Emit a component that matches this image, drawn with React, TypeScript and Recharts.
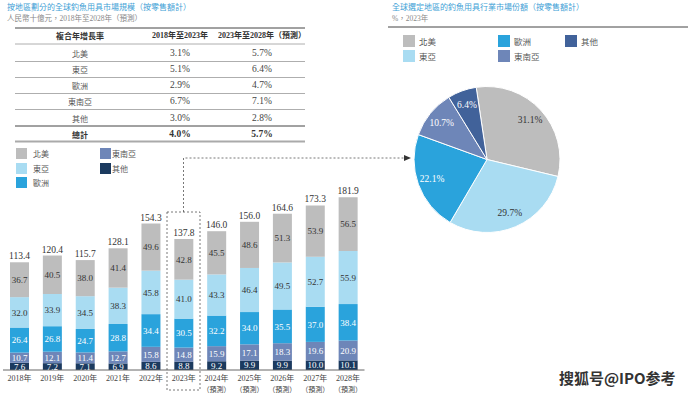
import React from 'react';
import { BarChart, Bar, XAxis, YAxis, LabelList, PieChart, Pie, Cell } from 'recharts';

// 市場規模（人民幣十億元）
const years = ['2018', '2019', '2020', '2021', '2022', '2023', '2024', '2025', '2026', '2027', '2028'];
const isForecast = [false, false, false, false, false, false, true, true, true, true, true];
const other = [7.6, 7.2, 7.1, 6.9, 8.6, 8.8, 9.2, 9.9, 9.9, 10.0, 10.1];
const seAsia = [10.7, 12.1, 11.4, 12.7, 15.8, 14.8, 15.9, 17.1, 18.3, 19.6, 20.9];
const europe = [26.4, 26.8, 24.7, 28.8, 34.4, 30.5, 32.2, 34.0, 35.5, 37.0, 38.4];
const eastAsia = [32.0, 33.9, 34.5, 38.3, 45.8, 41.0, 43.3, 46.4, 49.5, 52.7, 55.9];
const northAmerica = [36.7, 40.5, 38.0, 41.4, 49.6, 42.8, 45.5, 48.6, 51.3, 53.9, 56.5];
const totals = [113.4, 120.4, 115.7, 128.1, 154.3, 137.8, 146.0, 156.0, 164.6, 173.3, 181.9];

// 複合年增長率
const cagrRegions = ['北美', '東亞', '歐洲', '東南亞', '其他'];
const cagr1823 = ['3.1%', '5.1%', '2.9%', '6.7%', '3.0%'];
const cagr2328 = ['5.7%', '6.4%', '4.7%', '7.1%', '2.8%'];
const cagrTotal = ['4.0%', '5.7%'];

// 2023年市場份額（%）
const shareRegions = ['北美', '東亞', '歐洲', '東南亞', '其他'];
const share2023 = [31.1, 29.7, 22.1, 10.7, 6.4];

const GRAY = '#bdbdbd';
const LIGHT = '#a9dcf2';
const BLUE = '#2aa3dc';
const SEA = '#6e86b8';
const NAVY = '#1b3a5f';
const PIE_OTHER = '#41629a';

const SERIF = "'Liberation Serif', 'Noto Sans CJK TC', serif";
const CJK = "'Noto Sans CJK TC', 'Liberation Serif', sans-serif";

const barData = years.map((y, i) => ({
  year: y,
  other: other[i],
  seAsia: seAsia[i],
  europe: europe[i],
  eastAsia: eastAsia[i],
  northAmerica: northAmerica[i],
  total: totals[i],
}));

const pieData = shareRegions.map((r, i) => ({ name: r, value: share2023[i] }));
const pieColors = [GRAY, LIGHT, BLUE, SEA, PIE_OTHER];
const pieLabelDark = [true, true, false, false, false];

const fmt = (v: any) => Number(v).toFixed(1);

const YearTick = (props: any) => {
  const { x, y, payload } = props;
  const i = years.indexOf(payload.value);
  return (
    <g>
      <text x={x} y={y + 11} textAnchor="middle" fontSize={8} fill="#444" fontFamily={SERIF}>
        {payload.value}年
      </text>
      {isForecast[i] && (
        <text x={x} y={y + 22} textAnchor="middle" fontSize={7} fill="#444" fontFamily={CJK}>
          （預測）
        </text>
      )}
    </g>
  );
};

const RADIAN = Math.PI / 180;
const PieLabel = (props: any) => {
  const { cx, cy, midAngle, outerRadius, index, value } = props;
  const r = outerRadius * 0.8;
  const x = cx + r * Math.cos(-midAngle * RADIAN);
  const y = cy + r * Math.sin(-midAngle * RADIAN);
  return (
    <text x={x} y={y} textAnchor="middle" dominantBaseline="central" fontSize={9.5}
      fontFamily={SERIF} fill={pieLabelDark[index] ? '#333' : '#fff'}>
      {Number(value).toFixed(1)}%
    </text>
  );
};

const barLegend = [
  { label: '北美', color: GRAY, x: 16, y: 148 },
  { label: '東亞', color: LIGHT, x: 16, y: 163 },
  { label: '歐洲', color: BLUE, x: 16, y: 177 },
  { label: '東南亞', color: SEA, x: 100, y: 148 },
  { label: '其他', color: NAVY, x: 100, y: 163 },
];

const pieLegend = [
  { label: '北美', color: GRAY, x: 403, y: 35 },
  { label: '東亞', color: LIGHT, x: 403, y: 50 },
  { label: '歐洲', color: BLUE, x: 498, y: 35 },
  { label: '東南亞', color: SEA, x: 498, y: 50 },
  { label: '其他', color: PIE_OTHER, x: 565, y: 35 },
];

const rowY = [53.3, 69.3, 85.2, 101.2, 118.2];
const rowLines = [44, 61.5, 77.5, 93.5, 109.5];
const COL = [80, 180, 262];

export default function App() {
  return (
    <div style={{ position: 'absolute', left: 0, top: 0, width: 693, height: 394, background: '#fff', overflow: 'hidden' }}>
      <div style={{ position: 'absolute', left: 0, top: 150 }}>
        <BarChart width={380} height={244} data={barData} margin={{ top: 30, right: 15.5, bottom: 0, left: 3 }} barSize={19}>
          <XAxis dataKey="year" tickLine={false} tickSize={0} tickMargin={0} height={24}
            axisLine={{ stroke: '#666' }} tick={<YearTick />} interval={0} />
          <YAxis hide domain={[0, 200]} />
          <Bar dataKey="other" stackId="a" fill={NAVY} isAnimationActive={false}>
            <LabelList dataKey="other" position="center" formatter={fmt} fill="#fff" fontSize={9} fontFamily={SERIF} />
          </Bar>
          <Bar dataKey="seAsia" stackId="a" fill={SEA} isAnimationActive={false}>
            <LabelList dataKey="seAsia" position="center" formatter={fmt} fill="#fff" fontSize={9} fontFamily={SERIF} />
          </Bar>
          <Bar dataKey="europe" stackId="a" fill={BLUE} isAnimationActive={false}>
            <LabelList dataKey="europe" position="center" formatter={fmt} fill="#fff" fontSize={9} fontFamily={SERIF} />
          </Bar>
          <Bar dataKey="eastAsia" stackId="a" fill={LIGHT} isAnimationActive={false}>
            <LabelList dataKey="eastAsia" position="center" formatter={fmt} fill="#333" fontSize={9} fontFamily={SERIF} />
          </Bar>
          <Bar dataKey="northAmerica" stackId="a" fill={GRAY} isAnimationActive={false}>
            <LabelList dataKey="northAmerica" position="center" formatter={fmt} fill="#333" fontSize={9} fontFamily={SERIF} />
            <LabelList dataKey="total" position="top" offset={3} formatter={fmt} fill="#333" fontSize={9.5} fontFamily={SERIF} />
          </Bar>
        </BarChart>
      </div>

      <div style={{ position: 'absolute', left: 387, top: 60 }}>
        <PieChart width={200} height={200} margin={{ top: 0, right: 0, bottom: 0, left: 0 }}>
          <Pie data={pieData} dataKey="value" nameKey="name" cx={100} cy={99.5} outerRadius={73}
            startAngle={98.5} endAngle={-261.5} stroke="#fff" strokeWidth={1}
            label={PieLabel} labelLine={false} isAnimationActive={false}>
            {pieData.map((d, i) => <Cell key={d.name} fill={pieColors[i]} />)}
          </Pie>
        </PieChart>
      </div>

      <svg width={693} height={394} style={{ position: 'absolute', left: 0, top: 0, pointerEvents: 'none' }}>
        {/* left titles */}
        <text x={7} y={10} fontSize={8} fill="#3f9fd6" fontFamily={CJK}>按地區劃分的全球釣魚用具市場規模（按零售額計）</text>
        <text x={7} y={21} fontSize={7.5} fill="#888" fontFamily={SERIF}>人民幣十億元，2018年至2028年（預測）</text>

        {/* CAGR table */}
        <line x1={15} x2={305} y1={28} y2={28} stroke="#444" strokeWidth={1} />
        <text x={COL[0]} y={35} textAnchor="middle" dominantBaseline="central" fontSize={8} fontWeight="bold" fill="#333" fontFamily={CJK}>複合年增長率</text>
        <text x={COL[1]} y={35} textAnchor="middle" dominantBaseline="central" fontSize={8} fontWeight="bold" fill="#333" fontFamily={SERIF}>2018年至2023年</text>
        <text x={COL[2]} y={35} textAnchor="middle" dominantBaseline="central" fontSize={8} fontWeight="bold" fill="#333" fontFamily={SERIF}>2023年至2028年（預測）</text>
        {rowLines.map(y => <line key={y} x1={15} x2={305} y1={y} y2={y} stroke="#999" strokeWidth={0.8} />)}
        {cagrRegions.map((r, i) => (
          <g key={r}>
            <text x={COL[0]} y={rowY[i]} textAnchor="middle" dominantBaseline="central" fontSize={8} fill="#555" fontFamily={CJK}>{r}</text>
            <text x={COL[1]} y={rowY[i]} textAnchor="middle" dominantBaseline="central" fontSize={9.5} fill="#444" fontFamily={SERIF}>{cagr1823[i]}</text>
            <text x={COL[2]} y={rowY[i]} textAnchor="middle" dominantBaseline="central" fontSize={9.5} fill="#444" fontFamily={SERIF}>{cagr2328[i]}</text>
          </g>
        ))}
        <line x1={15} x2={305} y1={126} y2={126} stroke="#444" strokeWidth={1} />
        <text x={COL[0]} y={134} textAnchor="middle" dominantBaseline="central" fontSize={8} fontWeight="bold" fill="#333" fontFamily={CJK}>總計</text>
        <text x={COL[1]} y={134} textAnchor="middle" dominantBaseline="central" fontSize={9.5} fontWeight="bold" fill="#333" fontFamily={SERIF}>{cagrTotal[0]}</text>
        <text x={COL[2]} y={134} textAnchor="middle" dominantBaseline="central" fontSize={9.5} fontWeight="bold" fill="#333" fontFamily={SERIF}>{cagrTotal[1]}</text>
        <line x1={15} x2={305} y1={141.5} y2={141.5} stroke="#aaa" strokeWidth={2} />

        {/* bar legend */}
        {barLegend.map(l => (
          <g key={l.label}>
            <rect x={l.x} y={l.y} width={11} height={11} fill={l.color} />
            <text x={l.x + (l.x > 50 ? 12 : 17)} y={l.y + 5.5} dominantBaseline="central" fontSize={8} fill="#555" fontFamily={CJK}>{l.label}</text>
          </g>
        ))}

        {/* 2023 highlight and arrow */}
        <rect x={167} y={212} width={33} height={178} fill="none" stroke="#555" strokeWidth={0.8} strokeDasharray="2,2" />
        <path d="M183.5,212 L183.5,158 L405,158" fill="none" stroke="#555" strokeWidth={0.8} strokeDasharray="2,2" />
        <path d="M404,155 L411,158 L404,161 Z" fill="#333" />

        {/* right titles */}
        <text x={392} y={10} fontSize={8} fill="#3f9fd6" fontFamily={CJK}>全球選定地區的釣魚用具行業市場份額（按零售額計）</text>
        <text x={392} y={21} fontSize={7.5} fill="#888" fontFamily={SERIF}>%，2023年</text>
        <line x1={388} x2={688} y1={27} y2={27} stroke="#444" strokeWidth={1} />
        {pieLegend.map(l => (
          <g key={l.label}>
            <rect x={l.x} y={l.y} width={12} height={12} fill={l.color} />
            <text x={l.x + 16} y={l.y + 6} dominantBaseline="central" fontSize={8.5} fill="#555" fontFamily={CJK}>{l.label}</text>
          </g>
        ))}

        {/* watermark */}
        <text x={559} y={384} fontSize={15} fontWeight="bold" fill="#333" fontFamily="'Noto Sans CJK SC', sans-serif">搜狐号@IPO参考</text>
      </svg>
    </div>
  );
}
